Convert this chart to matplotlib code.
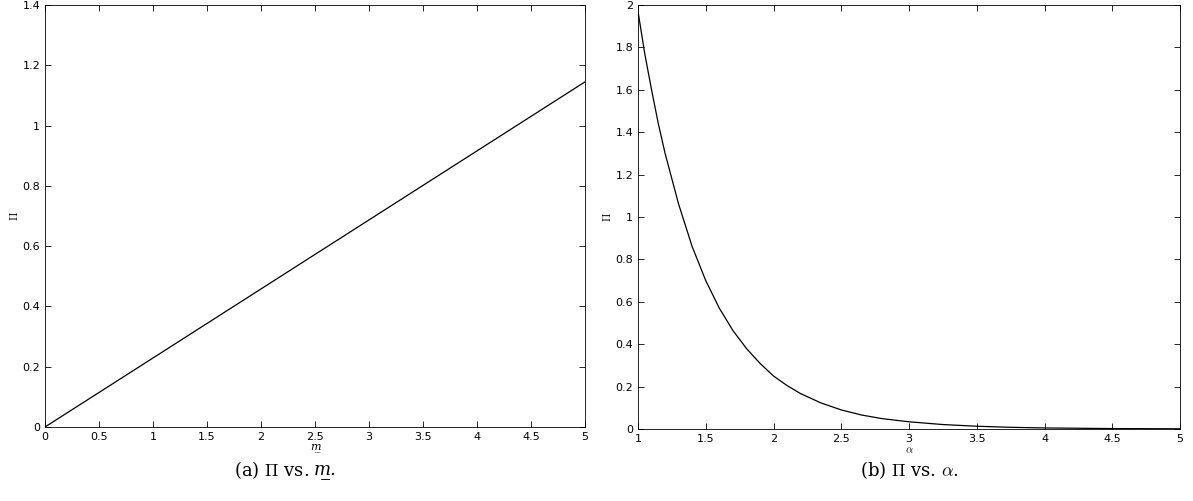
import numpy as np
import matplotlib
matplotlib.use("Agg")
import matplotlib.pyplot as plt

plt.rcParams['mathtext.fontset'] = 'cm'

# left panel: Pi vs m (straight line)
m_vals = [0, 5]
pi_m = [0, 1.145]

# right panel: Pi vs alpha
alpha_vals = [1.0, 1.05, 1.1, 1.15, 1.2, 1.25, 1.3, 1.35, 1.4, 1.45, 1.5, 1.6, 1.7, 1.8, 1.9, 2.0,
              2.1, 2.2, 2.35, 2.5, 2.65, 2.8, 3.0, 3.25, 3.5, 3.75, 4.0, 4.5, 5.0]
pi_alpha = [1.97, 1.77, 1.60, 1.44, 1.30, 1.18, 1.06, 0.96, 0.86, 0.78, 0.70, 0.57, 0.465, 0.38, 0.31, 0.25,
            0.205, 0.167, 0.123, 0.09, 0.066, 0.049, 0.034, 0.021, 0.013, 0.008, 0.005, 0.002, 0.001]

fig = plt.figure(figsize=(11.93, 5.01), dpi=100)
ax1 = fig.add_axes([45/1193, 1-427/501, 540/1193, 422/501])
ax2 = fig.add_axes([638/1193, 1-429/501, 542/1193, 424/501])

ax1.plot(m_vals, pi_m, color='k', lw=0.9)
ax1.set_xlim(0, 5)
ax1.set_ylim(0, 1.4)
ax1.set_xticks(np.arange(0, 5.01, 0.5))
ax1.set_xticklabels(['0', '0.5', '1', '1.5', '2', '2.5', '3', '3.5', '4', '4.5', '5'])
ax1.set_yticks(np.arange(0, 1.41, 0.2))
ax1.set_yticklabels(['0', '0.2', '0.4', '0.6', '0.8', '1', '1.2', '1.4'])
ax1.set_xlabel('m\u0332', fontsize=8, labelpad=0, family='DejaVu Serif', style='italic')
ax1.set_ylabel(r'$\Pi$', fontsize=8, labelpad=2)

ax2.plot(alpha_vals, pi_alpha, color='k', lw=0.9)
ax2.set_xlim(1, 5)
ax2.set_ylim(0, 2)
ax2.set_xticks(np.arange(1, 5.01, 0.5))
ax2.set_xticklabels(['1', '1.5', '2', '2.5', '3', '3.5', '4', '4.5', '5'])
ax2.set_yticks(np.arange(0, 2.01, 0.2))
ax2.set_yticklabels(['0', '0.2', '0.4', '0.6', '0.8', '1', '1.2', '1.4', '1.6', '1.8', '2'])
ax2.set_xlabel(r'$\alpha$', fontsize=8, labelpad=1)
ax2.set_ylabel(r'$\Pi$', fontsize=8, labelpad=2)

for ax in (ax1, ax2):
    ax.tick_params(direction='in', top=True, right=True, labelsize=8, length=4, width=0.6)
    for s in ax.spines.values():
        s.set_linewidth(0.6)

fig.text(309/1193, 1-470/501, r'(a) $\Pi$ vs.', ha='right', va='center', fontsize=13, family='DejaVu Serif')
fig.text(314/1193, 1-470/501, 'm\u0332.', ha='left', va='center', fontsize=13, family='DejaVu Serif', style='italic')
fig.text(910/1193, 1-470/501, r'(b) $\Pi$ vs. $\alpha$.', ha='center', va='center', fontsize=13, family='DejaVu Serif')

fig.savefig('out.png', dpi=100)
